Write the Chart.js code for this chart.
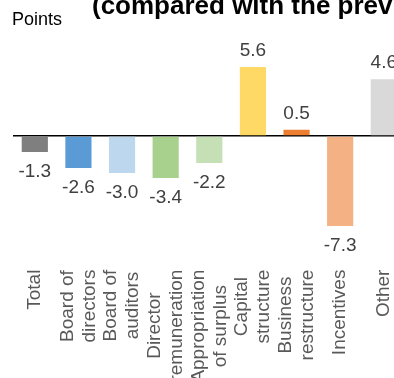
<!DOCTYPE html>
<html>
<head>
<meta charset="utf-8">
<script src="https://cdn.jsdelivr.net/npm/chart.js@4"></script>
<style>
  html, body { margin: 0; padding: 0; overflow: hidden; background: #fff; }
  #wrap { position: relative; width: 420px; height: 400px; }
</style>
</head>
<body>
<div id="wrap"><canvas id="pointsChart"></canvas></div>
<script>
// categories (wrapped lines), change in points, bar colours
const categories = [
    ['Total'],
    ['Board of', 'directors'],
    ['Board of', 'auditors'],
    ['Director', 'remuneration'],
    ['Appropriation', 'of surplus'],
    ['Capital', 'structure'],
    ['Business', 'restructure'],
    ['Incentives'],
    ['Other']
];
const changes = [-1.3, -2.6, -3.0, -3.4, -2.2, 5.6, 0.5, -7.3, 4.6];
const barColors = ['#7f7f7f', '#5b9bd5', '#bdd7ee', '#a9d18e', '#c5e0b4', '#ffd966', '#ed7d31', '#f4b183', '#d9d9d9'];
const yRange = [-8, 8];

const FONT = '"Liberation Sans", Arial, sans-serif';

document.addEventListener('DOMContentLoaded', function() {
    const ctxEl = document.getElementById('pointsChart');

    // title line and unit text above the plot
    const headerText = {
        id: 'headerText',
        afterDraw(chart) {
            const ctx = chart.ctx;
            ctx.save();
            ctx.fillStyle = '#000';
            ctx.textAlign = 'left';
            ctx.textBaseline = 'alphabetic';
            ctx.font = 'bold 26px ' + FONT;
            ctx.fillText('(compared with the previous year)', 92, 13.5);
            ctx.font = '18px ' + FONT;
            ctx.fillText('Points', 12, 24.5);
            ctx.restore();
        }
    };

    // value printed past the end of each bar
    const valueLabels = {
        id: 'valueLabels',
        afterDatasetsDraw(chart) {
            const ctx = chart.ctx;
            const meta = chart.getDatasetMeta(0);
            ctx.save();
            ctx.font = '19px ' + FONT;
            ctx.fillStyle = '#404040';
            ctx.textAlign = 'center';
            ctx.textBaseline = 'alphabetic';
            meta.data.forEach((bar, i) => {
                const v = chart.data.datasets[0].data[i];
                const y = v >= 0 ? bar.y - 11 : bar.y + 25;
                ctx.fillText(v.toFixed(1), bar.x, y);
            });
            ctx.restore();
        }
    };

    // rotated category names, lines centred on each other
    const categoryLabels = {
        id: 'categoryLabels',
        afterDraw(chart) {
            const {ctx, chartArea} = chart;
            const xScale = chart.scales.x;
            const lineH = 22;
            const top = chartArea.bottom + 35;
            ctx.save();
            ctx.font = '19px ' + FONT;
            ctx.fillStyle = '#595959';
            ctx.textAlign = 'center';
            ctx.textBaseline = 'middle';
            chart.data.labels.forEach((lines, i) => {
                const cx = xScale.getPixelForValue(i);
                const block = Math.max(...lines.map(l => ctx.measureText(l).width));
                lines.forEach((line, j) => {
                    ctx.save();
                    ctx.translate(cx + (j - (lines.length - 1) / 2) * lineH, top + block / 2);
                    ctx.rotate(-Math.PI / 2);
                    ctx.fillText(line, 0, 0);
                    ctx.restore();
                });
            });
            ctx.restore();
        }
    };

    new Chart(ctxEl.getContext('2d'), {
        type: 'bar',
        data: {
            labels: categories,
            datasets: [{
                data: changes,
                backgroundColor: barColors,
                borderWidth: 0,
                categoryPercentage: 1,
                barPercentage: 0.6
            }]
        },
        options: {
            responsive: true,
            maintainAspectRatio: false,
            animation: false,
            layout: {
                padding: { left: 13, right: 14.4, top: 37.4, bottom: 165.4 }
            },
            scales: {
                x: {
                    display: false
                },
                y: {
                    min: yRange[0],
                    max: yRange[1],
                    z: 1,
                    ticks: { display: false, stepSize: 2 },
                    border: { display: false },
                    grid: {
                        drawTicks: false,
                        lineWidth: 1.5,
                        color: c => (c.tick && c.tick.value === 0) ? '#000' : 'rgba(0,0,0,0)'
                    }
                }
            },
            plugins: {
                legend: { display: false },
                tooltip: { enabled: false }
            }
        },
        plugins: [headerText, valueLabels, categoryLabels]
    });
});
</script>
</body>
</html>
